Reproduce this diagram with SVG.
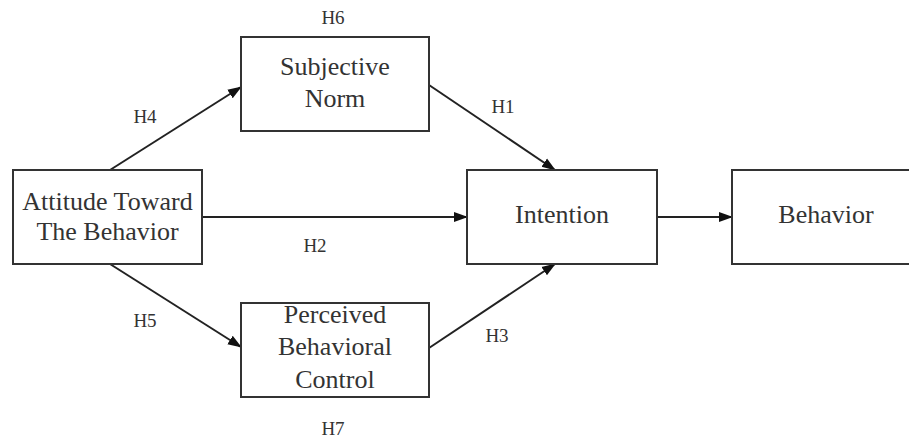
<svg xmlns="http://www.w3.org/2000/svg" width="909" height="439" viewBox="0 0 909 439">
<style>
.box{fill:#fff;stroke:#333;stroke-width:2}
.t{font-family:"Liberation Serif",serif;font-size:26px;fill:#333;text-anchor:middle}
.l{font-family:"Liberation Serif",serif;font-size:19px;fill:#333;text-anchor:middle}
.c{stroke:#222;stroke-width:2;fill:none;marker-end:url(#ah)}
</style>
<defs>
<marker id="ah" markerWidth="14" markerHeight="12" refX="13" refY="5" orient="auto" markerUnits="userSpaceOnUse" viewBox="0 0 14 10">
<path d="M0,0 L14,5 L0,10 Z" fill="#111"/>
</marker>
</defs>
<rect width="909" height="439" fill="#fff"/>
<g id="connectors">
<line class="c" x1="110" y1="170" x2="241" y2="87"/>
<line class="c" x1="110" y1="264" x2="241" y2="347"/>
<line class="c" x1="202" y1="217" x2="467" y2="217"/>
<line class="c" x1="429" y1="85" x2="555" y2="170"/>
<line class="c" x1="429" y1="348" x2="555" y2="264"/>
<line class="c" x1="657" y1="217" x2="732" y2="217"/>
</g>
<g id="labels">
<text class="l" x="333" y="24">H6</text>
<text class="l" x="145" y="123">H4</text>
<text class="l" x="503" y="113">H1</text>
<text class="l" x="315" y="252">H2</text>
<text class="l" x="145" y="327">H5</text>
<text class="l" x="497" y="342">H3</text>
<text class="l" x="333" y="435">H7</text>
</g>
<g id="attitude">
<rect class="box" x="13" y="170" width="189" height="94"/>
<text class="t" x="107.5" y="210">Attitude Toward</text>
<text class="t" x="107.5" y="240">The Behavior</text>
</g>
<g id="subjective">
<rect class="box" x="241" y="37" width="188" height="94"/>
<text class="t" x="335" y="75">Subjective</text>
<text class="t" x="335" y="107">Norm</text>
</g>
<g id="perceived">
<rect class="box" x="241" y="303" width="188" height="94"/>
<text class="t" x="335" y="323">Perceived</text>
<text class="t" x="335" y="355">Behavioral</text>
<text class="t" x="335" y="388">Control</text>
</g>
<g id="intention">
<rect class="box" x="467" y="170" width="190" height="94"/>
<text class="t" x="562" y="223">Intention</text>
</g>
<g id="behavior">
<rect class="box" x="732" y="170" width="190" height="94"/>
<text class="t" x="826" y="223">Behavior</text>
</g>
</svg>
